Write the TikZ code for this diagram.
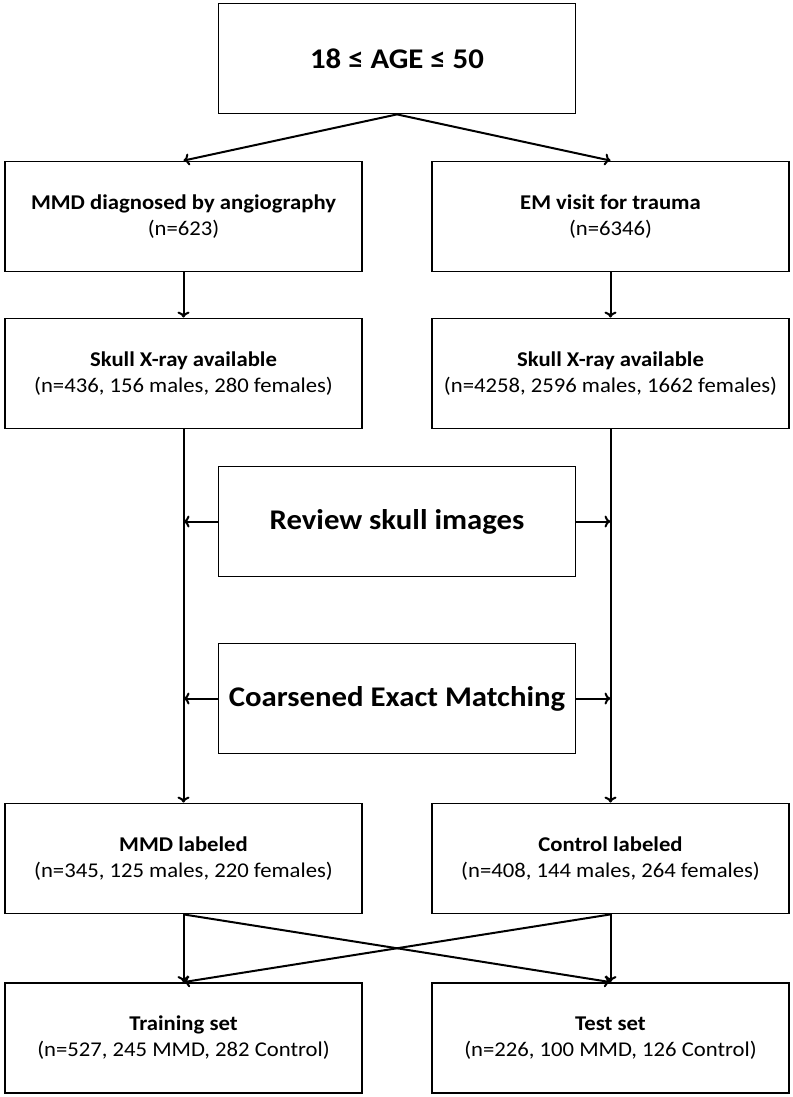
\documentclass[tikz,border=0pt]{standalone}
\usepackage{fontspec}
\setmainfont{Carlito}[FakeStretch=1.08]
\usetikzlibrary{arrows.meta}
\begin{document}
\begin{tikzpicture}[x=1pt,y=-1pt,
  box/.style={draw=black,line width=1.8pt,rectangle,minimum width=357pt,minimum height=110pt,inner sep=0pt,align=center,font=\fontsize{21}{26}\selectfont},
  bigbox/.style={box,font=\fontsize{28.5}{34}\selectfont\bfseries},
  arr/.style={line width=2pt,-{To[length=6pt,width=12pt]}}]
\useasboundingbox (0,0) rectangle (792,1097);
\node[bigbox] (top) at (397,58.5) {18 ≤ AGE ≤ 50};
\node[box] (mmd) at (183.5,216.5) {\textbf{MMD diagnosed by angiography}\\(n=623)};
\node[box] (em) at (610.5,216.5) {\textbf{EM visit for trauma}\\(n=6346)};
\node[box] (sl) at (183.5,373.5) {\textbf{Skull X-ray available}\\(n=436, 156 males, 280 females)};
\node[box] (sr) at (610.5,373.5) {\textbf{Skull X-ray available}\\(n=4258, 2596 males, 1662 females)};
\node[bigbox] (rev) at (397,521.5) {Review skull images};
\node[bigbox] (cem) at (397,698.5) {Coarsened Exact Matching};
\node[box] (ml) at (183.5,858.5) {\textbf{MMD labeled}\\(n=345, 125 males, 220 females)};
\node[box] (cl) at (610.5,858.5) {\textbf{Control labeled}\\(n=408, 144 males, 264 females)};
\node[box] (tr) at (183.5,1038) {\textbf{Training set}\\(n=527, 245 MMD, 282 Control)};
\node[box] (te) at (610.5,1038) {\textbf{Test set}\\(n=226, 100 MMD, 126 Control)};
\draw[arr] (top.south) -- (mmd.north);
\draw[arr] (top.south) -- (em.north);
\draw[arr] (mmd.south) -- (sl.north);
\draw[arr] (em.south) -- (sr.north);
\draw[arr] (sl.south) -- (ml.north);
\draw[arr] (sr.south) -- (cl.north);
\draw[arr] (rev.west) -- (rev.west -| sl.south);
\draw[arr] (rev.east) -- (rev.east -| sr.south);
\draw[arr] (cem.west) -- (cem.west -| sl.south);
\draw[arr] (cem.east) -- (cem.east -| sr.south);
\draw[arr] (ml.south) -- (tr.north);
\draw[arr] (ml.south) -- (te.north);
\draw[arr] (cl.south) -- (te.north);
\draw[arr] (cl.south) -- (tr.north);
\end{tikzpicture}
\end{document}
